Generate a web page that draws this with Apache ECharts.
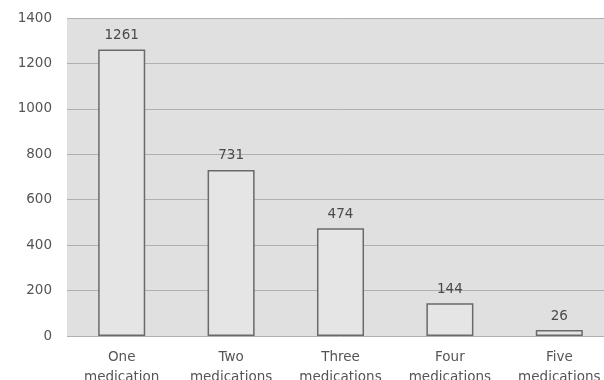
<!DOCTYPE html>
<html>
<head>
<meta charset="utf-8">
<script src="https://cdn.jsdelivr.net/npm/echarts@6/dist/echarts.min.js"></script>
<style>
  html, body { margin: 0; padding: 0; background: #ffffff; overflow: hidden; }
  #chart { width: 614px; height: 380px; }
</style>
</head>
<body>
<div id="chart"></div>
<script>
// Number of patients by count of medications taken
const categories = ['One\nmedication', 'Two\nmedications', 'Three\nmedications', 'Four\nmedications', 'Five\nmedications'];
const patients = [1261, 731, 474, 144, 26];
const yTicks = { min: 0, max: 1400, interval: 200 };

const font = 'DejaVu Sans, sans-serif';
const chart = echarts.init(document.getElementById('chart'), null, { renderer: 'canvas' });
chart.setOption({
  animation: false,
  backgroundColor: '#ffffff',
  grid: {
    left: 67, right: 0, top: 18, bottom: 44,
    outerBoundsMode: 'none',
    show: true, backgroundColor: '#e0e0e0', borderWidth: 0
  },
  xAxis: {
    type: 'category',
    data: categories,
    axisLine: { show: false },
    axisTick: { show: false },
    axisLabel: { color: '#555555', fontFamily: font, fontSize: 13.5, lineHeight: 20, margin: 11 }
  },
  yAxis: {
    type: 'value',
    min: yTicks.min, max: yTicks.max, interval: yTicks.interval,
    axisLine: { show: false },
    axisTick: { show: false },
    axisLabel: {
      color: '#555555', fontFamily: font, fontSize: 13.5, margin: 15,
      formatter: v => String(v)
    },
    splitLine: { lineStyle: { color: '#b0b0b0', width: 1 } }
  },
  series: [{
    type: 'bar',
    data: patients,
    barWidth: '43%',
    itemStyle: { color: '#e5e5e5', borderColor: '#6a6a6a', borderWidth: 1.5 },
    label: { show: true, position: 'top', distance: 7, color: '#4a4a4a', fontFamily: font, fontSize: 13.5 }
  }]
});
</script>
</body>
</html>
